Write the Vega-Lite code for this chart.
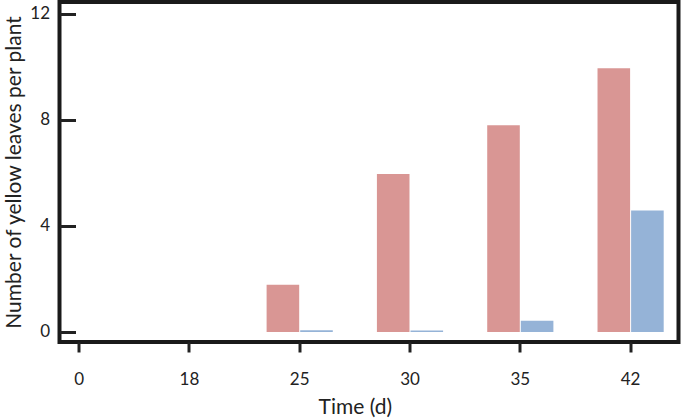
{
  "$schema": "https://vega.github.io/schema/vega-lite/v6.json",
  "width": 619,
  "height": 340,
  "autosize": {"type": "none"},
  "padding": {"left": 59.5, "top": 2, "right": 2.5, "bottom": 78},
  "background": "white",
  "data": {
    "values": [
      {"time": "0", "series": "a", "leaves": 0},
      {"time": "0", "series": "b", "leaves": 0},
      {"time": "18", "series": "a", "leaves": 0},
      {"time": "18", "series": "b", "leaves": 0},
      {"time": "25", "series": "a", "leaves": 1.78},
      {"time": "25", "series": "b", "leaves": 0.06},
      {"time": "30", "series": "a", "leaves": 5.96},
      {"time": "30", "series": "b", "leaves": 0.05},
      {"time": "35", "series": "a", "leaves": 7.8},
      {"time": "35", "series": "b", "leaves": 0.42},
      {"time": "42", "series": "a", "leaves": 9.95},
      {"time": "42", "series": "b", "leaves": 4.58}
    ]
  },
  "mark": {"type": "bar"},
  "encoding": {
    "x": {
      "field": "time",
      "type": "ordinal",
      "sort": ["0", "18", "25", "30", "35", "42"],
      "title": "Time (d)",
      "scale": {"range": [-13.5, 604.2], "paddingInner": 0.4, "paddingOuter": 0},
      "axis": {
        "labelAngle": 0,
        "domain": false,
        "tickSize": 10,
        "tickWidth": 3,
        "tickColor": "#222",
        "labelPadding": 19,
        "labelFontSize": 17,
        "titleFontSize": 21,
        "titlePadding": 9
      }
    },
    "xOffset": {
      "field": "series",
      "type": "nominal",
      "scale": {"paddingInner": 0.03}
    },
    "y": {
      "field": "leaves",
      "type": "quantitative",
      "title": "Number of yellow leaves per plant",
      "scale": {"domain": [-0.38, 12.45], "nice": false, "zero": false},
      "axis": {
        "values": [0, 4, 8, 12],
        "grid": false,
        "domain": false,
        "tickSize": -16,
        "tickWidth": 3,
        "tickColor": "#222",
        "labelPadding": 26,
        "labelFontSize": 17,
        "titleFontSize": 21,
        "titlePadding": 5
      }
    },
    "color": {
      "field": "series",
      "type": "nominal",
      "scale": {"domain": ["a", "b"], "range": ["#d99694", "#95b3d7"]},
      "legend": null
    }
  },
  "config": {
    "view": {"stroke": "#1a1a1a", "strokeWidth": 4},
    "font": "Lato",
    "axis": {"labelColor": "#222", "titleColor": "#222", "titleFontWeight": "normal", "labelFont": "Lato", "titleFont": "Lato"}
  }
}
